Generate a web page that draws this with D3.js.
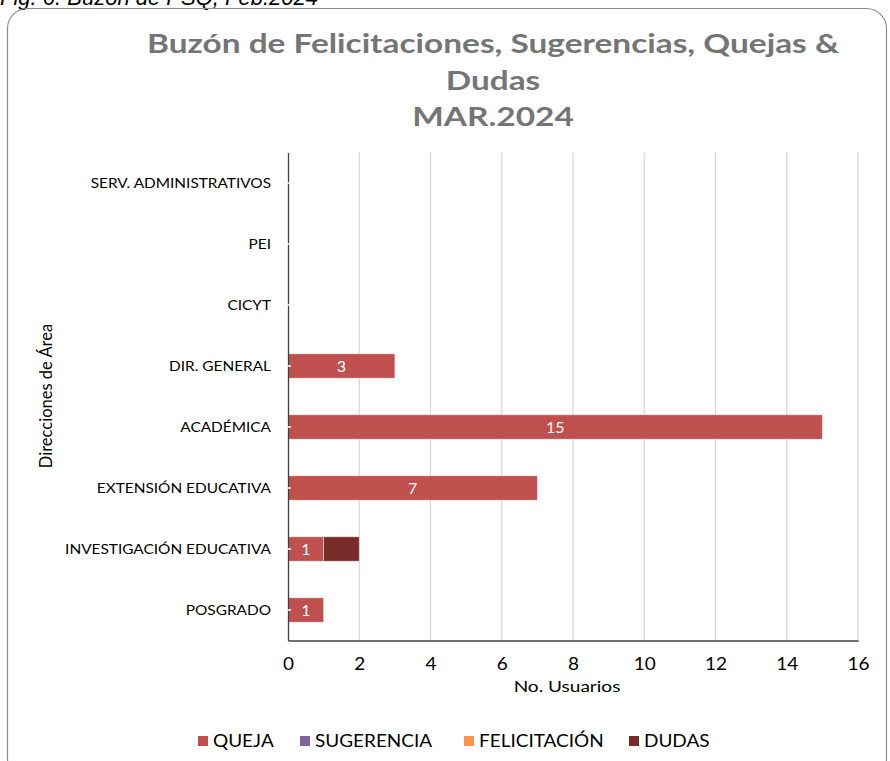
<!DOCTYPE html>
<html>
<head>
<meta charset="utf-8">
<script src="https://cdn.jsdelivr.net/npm/d3@7/dist/d3.min.js"></script>
<style>
  body { margin: 0; background: #fff; }
  svg { display: block; }
</style>
</head>
<body>
<div id="chart"></div>
<script>
// Chart data
const categories = ["SERV. ADMINISTRATIVOS", "PEI", "CICYT", "DIR. GENERAL", "ACADÉMICA", "EXTENSIÓN EDUCATIVA", "INVESTIGACIÓN EDUCATIVA", "POSGRADO"];
const seriesNames = ["QUEJA", "SUGERENCIA", "FELICITACIÓN", "DUDAS"];
const queja = [0, 0, 0, 3, 15, 7, 1, 1];
const sugerencia = [0, 0, 0, 0, 0, 0, 0, 0];
const felicitacion = [0, 0, 0, 0, 0, 0, 0, 0];
const dudas = [0, 0, 0, 0, 0, 0, 1, 0];
const xTicks = [0, 2, 4, 6, 8, 10, 12, 14, 16];
const titleLines = ["Buzón de Felicitaciones, Sugerencias, Quejas &", "Dudas", "MAR.2024"];

const width = 890;
const height = 761;
const colors = ["#C0504D", "#8064A2", "#F79646", "#772C2A"];
const labelFont = "Lato, 'Open Sans', sans-serif";

// build rows for the stack
const rows = categories.map((c, i) => ({
    cat: c,
    "QUEJA": queja[i],
    "SUGERENCIA": sugerencia[i],
    "FELICITACIÓN": felicitacion[i],
    "DUDAS": dudas[i]
}));

// the source chart's font is wider than Lato, so text gets a horizontal stretch
function stretch(sel, px, py, sx) {
    sel.attr("x", 0).attr("y", 0)
        .attr("transform", (d, i) => `translate(${px(d, i)},${py(d, i)}) scale(${sx},1)`);
}

const svg = d3.select("#chart").append("svg")
    .attr("width", width)
    .attr("height", height);

// figure caption, clipped at the top edge
svg.append("text")
    .attr("x", 0)
    .attr("y", 5)
    .style("font-family", "'Liberation Sans', Arial, sans-serif")
    .style("font-style", "italic")
    .style("font-size", "22px")
    .style("fill", "#000")
    .text("Fig. 6. Buzón de PSQ, Feb.2024");

// chart frame
svg.append("rect")
    .attr("x", 7.5)
    .attr("y", 8.5)
    .attr("width", 879)
    .attr("height", 770)
    .attr("rx", 20)
    .style("fill", "none")
    .style("stroke", "#8c8c8c")
    .style("stroke-width", 1.2);

// title
svg.append("g").selectAll("text")
    .data(titleLines)
    .enter()
    .append("text")
    .attr("text-anchor", "middle")
    .style("font-family", labelFont)
    .style("font-weight", "bold")
    .style("font-size", "27.5px")
    .style("fill", "#757575")
    .text(d => d)
    .call(stretch, () => 493, (d, i) => 53 + i * 36.5, 1.215);

// plot area
const plot = { left: 288, right: 858, top: 152.5, bottom: 640.5 };

const x = d3.scaleLinear()
    .domain([0, 16])
    .range([plot.left, plot.right]);

const y = d3.scaleBand()
    .domain(categories)
    .range([plot.top, plot.bottom])
    .paddingInner(0.6)
    .paddingOuter(0.3);

// gridlines
svg.append("g")
    .selectAll("line")
    .data(xTicks.slice(1))
    .enter()
    .append("line")
    .attr("x1", d => x(d))
    .attr("x2", d => x(d))
    .attr("y1", plot.top)
    .attr("y2", plot.bottom)
    .style("stroke", "#d9d9d9")
    .style("stroke-width", 1.3);

// stacked bars
const layers = d3.stack().keys(seriesNames)(rows);

const layer = svg.append("g")
    .selectAll("g")
    .data(layers)
    .enter()
    .append("g")
    .style("fill", (d, i) => colors[i]);

layer.selectAll("rect")
    .data(d => d.filter(p => p[1] - p[0] > 0))
    .enter()
    .append("rect")
    .attr("x", d => x(d[0]))
    .attr("y", d => y(d.data.cat))
    .attr("width", d => x(d[1]) - x(d[0]))
    .attr("height", y.bandwidth())
    .style("stroke", "rgba(255,255,255,0.5)")
    .style("stroke-width", 0.8);

// data labels on QUEJA
svg.append("g")
    .selectAll("text")
    .data(layers[0].filter(p => p[1] - p[0] > 0))
    .enter()
    .append("text")
    .attr("x", d => (x(d[0]) + x(d[1])) / 2)
    .attr("y", d => y(d.data.cat) + y.bandwidth() / 2)
    .attr("dy", "0.36em")
    .attr("text-anchor", "middle")
    .style("font-family", labelFont)
    .style("font-size", "16px")
    .style("fill", "#fff")
    .text(d => d[1] - d[0]);

// x axis
const xAxis = svg.append("g")
    .attr("transform", `translate(0,${plot.bottom})`)
    .call(d3.axisBottom(x).tickValues(xTicks).tickSize(0));
xAxis.select(".domain").style("stroke", "#404040").style("stroke-width", 1.3);
xAxis.selectAll("text")
    .attr("dy", null)
    .style("font-family", labelFont)
    .style("font-size", "16.5px")
    .style("fill", "#000")
    .call(stretch, () => 0, () => 29.5, 1.15);

// y axis
const yAxis = svg.append("g")
    .attr("transform", `translate(${plot.left},0)`)
    .call(d3.axisLeft(y).tickSize(3).tickSizeOuter(0));
yAxis.select(".domain").style("stroke", "#404040").style("stroke-width", 1.3);
yAxis.selectAll(".tick line")
    .attr("x1", -3)
    .attr("x2", 3)
    .style("stroke", "#fff")
    .style("stroke-width", 1.5);
yAxis.selectAll("text")
    .attr("dy", "0.36em")
    .style("font-family", labelFont)
    .style("font-size", "14px")
    .style("fill", "#000")
    .call(stretch, () => -17, () => 0, 1.1);

// axis titles
svg.append("text")
    .attr("text-anchor", "middle")
    .style("font-family", labelFont)
    .style("font-size", "15px")
    .style("fill", "#000")
    .text("No. Usuarios")
    .call(stretch, () => 567, () => 692, 1.27);

svg.append("text")
    .attr("transform", "translate(52,396) rotate(-90)")
    .attr("text-anchor", "middle")
    .style("font-family", labelFont)
    .style("font-size", "16.5px")
    .style("fill", "#000")
    .text("Direcciones de Área");

// legend
const legendX = [198, 300, 464, 629];
const legend = svg.append("g")
    .selectAll("g")
    .data(seriesNames)
    .enter()
    .append("g")
    .attr("transform", (d, i) => `translate(${legendX[i]},741)`);

legend.append("rect")
    .attr("x", 0)
    .attr("y", -5)
    .attr("width", 10)
    .attr("height", 10)
    .style("fill", (d, i) => colors[i]);

legend.append("text")
    .attr("dy", "0.36em")
    .style("font-family", labelFont)
    .style("font-size", "16.5px")
    .style("fill", "#000")
    .text(d => d)
    .call(stretch, () => 15, () => 0, 1.15);
</script>
</body>
</html>
